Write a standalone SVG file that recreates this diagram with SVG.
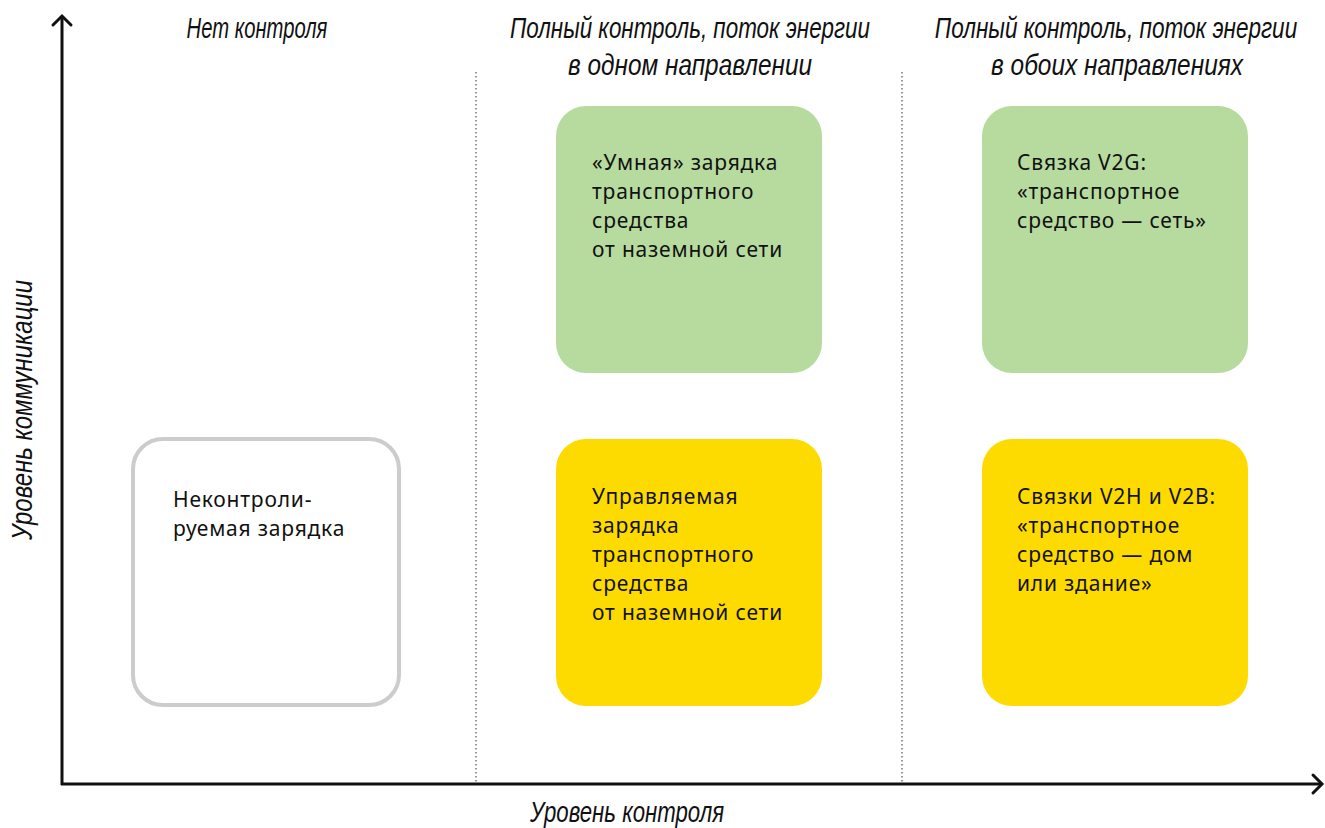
<svg xmlns="http://www.w3.org/2000/svg" width="1325" height="828" viewBox="0 0 1325 828">
  <style>
    .head { font-family: "Liberation Sans", Arial, sans-serif; font-style: italic; font-size: 30px; fill: #111; }
    .body { font-family: "Noto Sans", "Open Sans", sans-serif; font-size: 21px; letter-spacing: 0.8px; fill: #111; }
    .axis { stroke: #111; stroke-width: 3; fill: none; }
    .chev { stroke: #111; stroke-width: 3; fill: none; stroke-linecap: round; stroke-linejoin: miter; }
    .divider { stroke: #555; stroke-width: 1.2; stroke-dasharray: 1.5 2.5; fill: none; }
    .green { fill: #b7db9f; }
    .yellow { fill: #fedb00; }
    .plain { fill: #fff; stroke: #cccccc; stroke-width: 4; }
  </style>

  <rect width="1325" height="828" fill="#fff"/>

  <!-- axes and column dividers -->
  <g id="connectors">
    <line class="divider" x1="476" y1="72" x2="476" y2="784"/>
    <line class="divider" x1="902" y1="72" x2="902" y2="784"/>
    <line class="axis" x1="62" y1="16" x2="62" y2="785"/>
    <line class="axis" x1="61" y1="784" x2="1321" y2="784"/>
    <polyline class="chev" points="53,25 62,16 71,25"/>
    <polyline class="chev" points="1313,775 1322,784 1313,793"/>
  </g>

  <!-- axis titles (condensed by a horizontal scale of 0.8) -->
  <g id="axis-labels">
    <text class="head" transform="translate(627,822) scale(0.8,1)" text-anchor="middle" textLength="242.5" lengthAdjust="spacingAndGlyphs">Уровень контроля</text>
    <text class="head" transform="translate(32,410) rotate(-90) scale(0.8,1)" text-anchor="middle" textLength="325" lengthAdjust="spacingAndGlyphs">Уровень коммуникации</text>
  </g>

  <!-- column headings -->
  <g id="col-none">
    <text class="head" transform="translate(257,38) scale(0.8,1)" text-anchor="middle" textLength="176" lengthAdjust="spacingAndGlyphs">Нет контроля</text>
  </g>
  <g id="col-one-way">
    <text class="head" transform="translate(690,38) scale(0.8,1)" text-anchor="middle" textLength="450" lengthAdjust="spacingAndGlyphs">Полный контроль, поток энергии</text>
    <text class="head" transform="translate(690,75) scale(0.8,1)" text-anchor="middle" textLength="305" lengthAdjust="spacingAndGlyphs">в одном направлении</text>
  </g>
  <g id="col-two-way">
    <text class="head" transform="translate(1116,38) scale(0.8,1)" text-anchor="middle" textLength="453" lengthAdjust="spacingAndGlyphs">Полный контроль, поток энергии</text>
    <text class="head" transform="translate(1117,75) scale(0.8,1)" text-anchor="middle" textLength="315" lengthAdjust="spacingAndGlyphs">в обоих направлениях</text>
  </g>

  <!-- nodes -->
  <g id="uncontrolled">
    <rect class="plain" x="133" y="439" width="266" height="266" rx="30"/>
    <text class="body" x="173" y="507">Неконтроли-</text>
    <text class="body" x="173" y="536">руемая зарядка</text>
  </g>

  <g id="smart-charging">
    <rect class="green" x="556" y="106" width="266" height="267" rx="30"/>
    <text class="body" x="592" y="170">«Умная» зарядка</text>
    <text class="body" x="592" y="199">транспортного</text>
    <text class="body" x="592" y="228">средства</text>
    <text class="body" x="592" y="257">от наземной сети</text>
  </g>

  <g id="v2g">
    <rect class="green" x="982" y="106" width="266" height="267" rx="30"/>
    <text class="body" x="1017" y="170">Связка V2G:</text>
    <text class="body" x="1017" y="199">«транспортное</text>
    <text class="body" x="1017" y="228">средство — сеть»</text>
  </g>

  <g id="managed-charging">
    <rect class="yellow" x="556" y="439" width="266" height="267" rx="30"/>
    <text class="body" x="592" y="504">Управляемая</text>
    <text class="body" x="592" y="533">зарядка</text>
    <text class="body" x="592" y="562">транспортного</text>
    <text class="body" x="592" y="591">средства</text>
    <text class="body" x="592" y="620">от наземной сети</text>
  </g>

  <g id="v2h-v2b">
    <rect class="yellow" x="982" y="439" width="266" height="267" rx="30"/>
    <text class="body" x="1017" y="504">Связки V2H и V2B:</text>
    <text class="body" x="1017" y="533">«транспортное</text>
    <text class="body" x="1017" y="562">средство — дом</text>
    <text class="body" x="1017" y="591">или здание»</text>
  </g>
</svg>
